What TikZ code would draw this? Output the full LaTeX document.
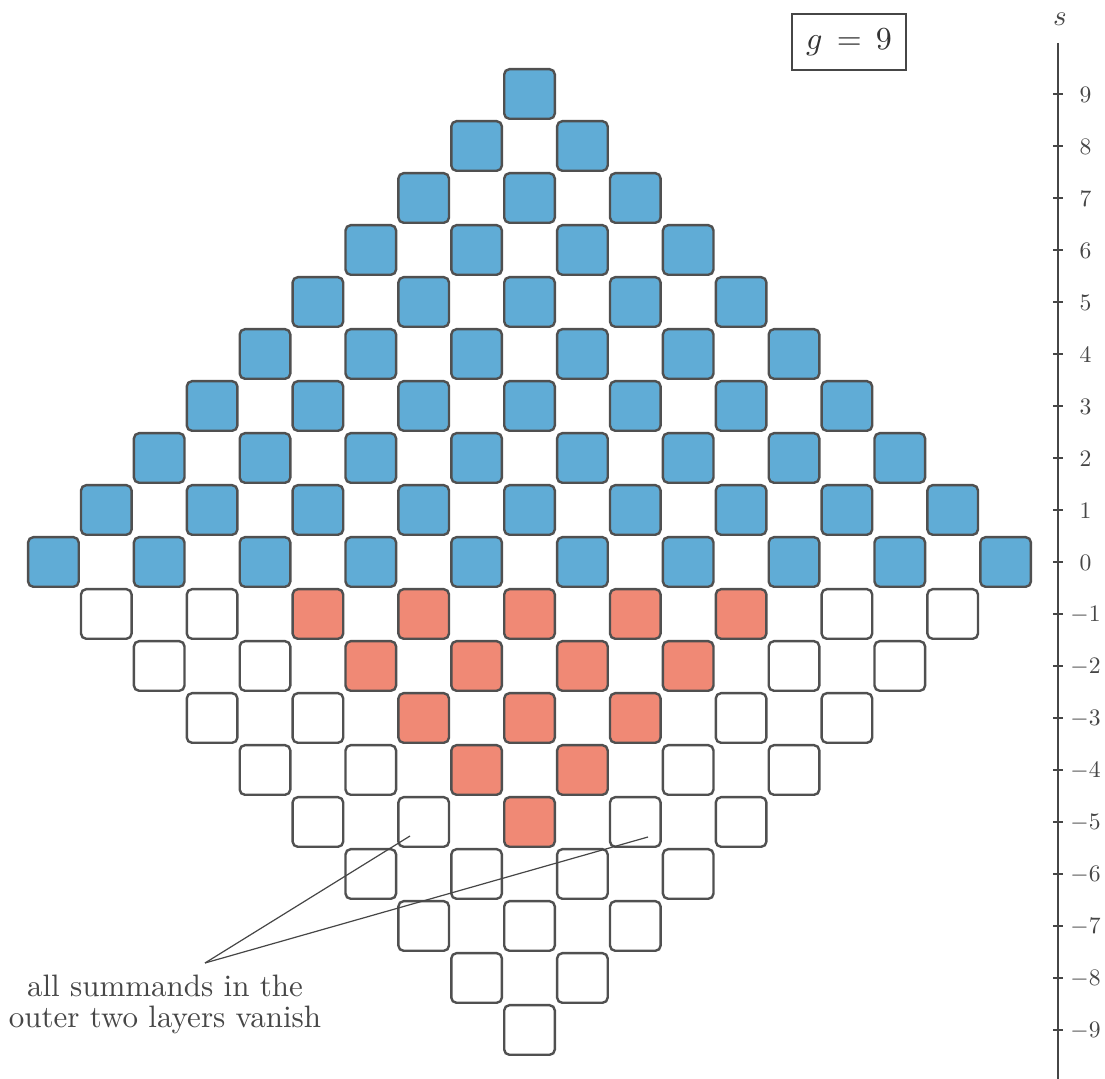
\documentclass[tikz,border=0pt]{standalone}
\usepackage{graphicx}
\definecolor{cellblue}{RGB}{96,172,214}
\definecolor{cellred}{RGB}{240,137,117}
\definecolor{edgegray}{RGB}{80,80,80}
\definecolor{inkgray}{RGB}{70,70,70}
\tikzset{
  cell/.style={draw=edgegray, line width=1.2pt, rounded corners=2.6pt, rectangle,
    minimum width=25.3pt, minimum height=24.8pt, inner sep=0pt},
  cell0/.style={cell, fill=white},
  cell1/.style={cell, fill=cellblue},
  cell2/.style={cell, fill=cellred},
  axisline/.style={draw=inkgray, line width=0.6pt},
  ticklabel/.style={text=inkgray, font=\fontsize{10}{12}\selectfont, inner sep=0pt},
  annotext/.style={text=inkgray, font=\fontsize{10}{12}\selectfont, inner sep=0pt},
  annoline/.style={draw=inkgray, line width=0.6pt},
  genusbox/.style={draw=inkgray, line width=0.8pt, minimum width=57pt, minimum height=28pt,
    inner sep=0pt, text=black!80, font=\fontsize{10}{12}\selectfont}
}
\begin{document}
\begin{tikzpicture}[x=0.5pt,y=-0.5pt]
\useasboundingbox (0,0) rectangle (1105,1079);
\fill[white] (0,0) rectangle (1105,1079);
% grid of cells
\foreach \sv in {-9,...,9}{
  \foreach \cv in {-9,...,9}{
    \pgfmathtruncatemacro{\inside}{(abs(\cv)<=9-abs(\sv)) && (mod(abs(\cv+\sv),2)==1)}
    \ifnum\inside=1
      \pgfmathtruncatemacro{\kind}{\sv>=0 ? 1 : (abs(\cv)<=5+\sv ? 2 : 0)}
      \node[cell\kind] (q\cv x\sv) at ({529.5+52.9*\cv},{562-52*\sv}) {};
    \fi
  }
}
% axis
\coordinate (axtop) at (1058,43);
\coordinate (axbot) at (1058,1079);
\draw[axisline] (axtop) -- (axbot);
\node[ticklabel] (slabel) at (1060,19) {\scalebox{1.45}{$s$}};
\foreach \sv in {-9,...,9}{
  \draw[axisline] (1053,{562-52*\sv}) -- (1063,{562-52*\sv});
  \node[ticklabel] (tl\sv) at (1085.5,{563-52*\sv}) {\scalebox{1.18}{$\sv$}};
}
% genus box
\node[genusbox] (genus) at (849,42) {\scalebox{1.6}{$g\,=\,9$}};
% annotation
\node[annotext, anchor=base] (anno1) at (165,997) {\scalebox{1.55}{all summands in the}};
\node[annotext, anchor=base] (anno2) at (165,1028) {\scalebox{1.55}{outer two layers vanish}};
\coordinate (annofoot) at (205,963);
\coordinate (annotipA) at (410,836);
\coordinate (annotipB) at (648,837);
\draw[annoline] (annofoot) -- (annotipA);
\draw[annoline] (annofoot) -- (annotipB);
\end{tikzpicture}
\end{document}
